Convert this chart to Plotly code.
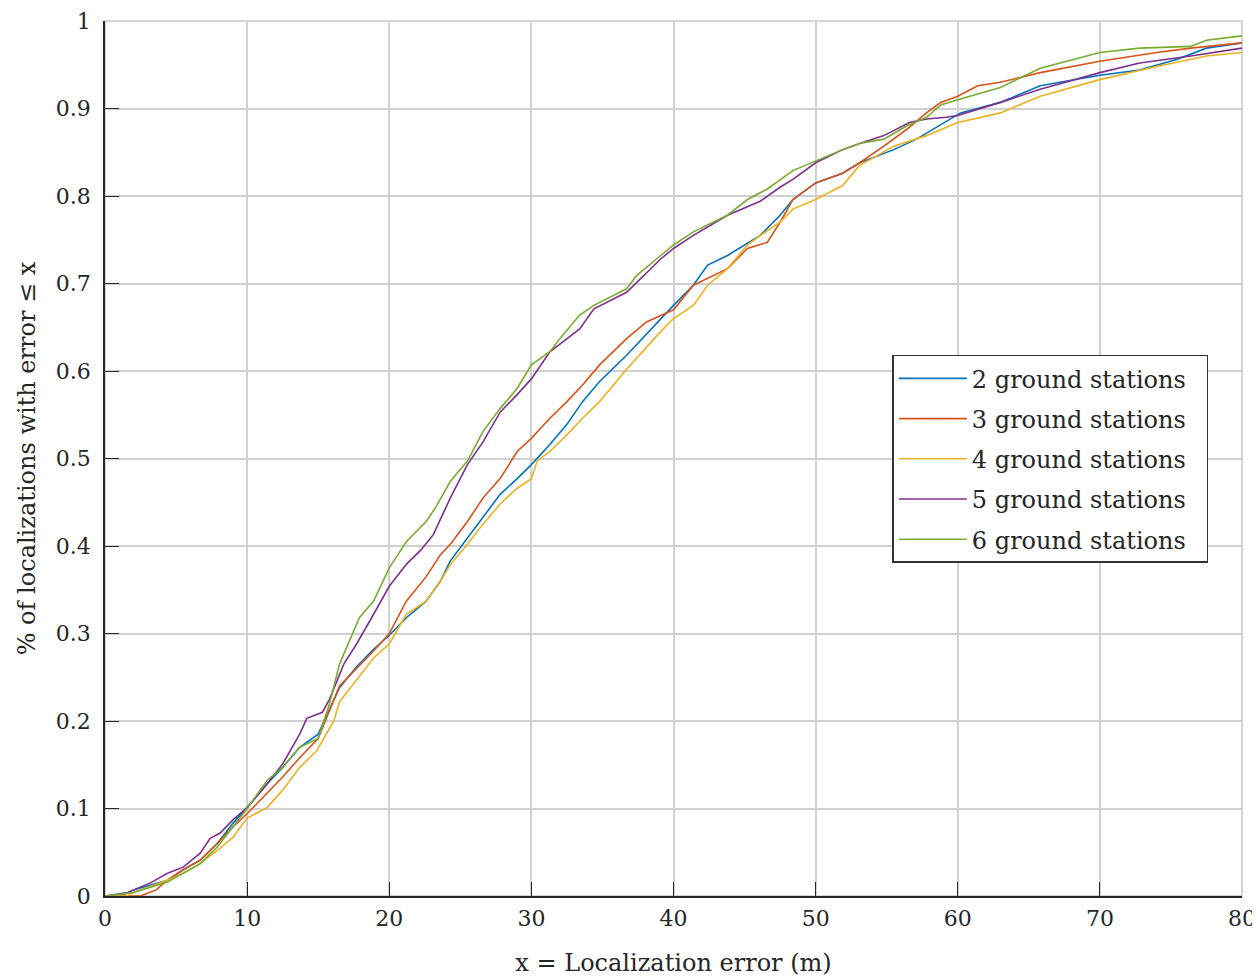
import plotly.graph_objects as go

# ---- data (x = localization error in m, y = CDF) ----
x_gs2 = [0, 1.2, 2.0, 4.4, 5.5, 6.7, 7.9, 9.0, 10, 11.4,
         12.5, 13.7, 15, 16.5, 17.7, 18.9, 20, 21.2, 22.6, 23.6,
         24.3, 25.5, 26.6, 27.8, 29, 30, 31.3, 32.5, 33.6, 34.8,
         36.7, 39.1, 40, 41.4, 42.4, 43.8, 46.1, 47.5, 48.4, 50,
         51.9, 53.1, 55.5, 57.1, 59.3, 60.2, 62.3, 63, 65.8, 70,
         72.8, 75.4, 77.5, 80]
y_gs2 = [0, 0.001, 0.007, 0.018, 0.03, 0.041, 0.06, 0.083, 0.101, 0.128,
         0.147, 0.17, 0.185, 0.238, 0.262, 0.282, 0.298, 0.318, 0.337, 0.36,
         0.383, 0.409, 0.432, 0.459, 0.477, 0.493, 0.516, 0.539, 0.565, 0.588,
         0.618, 0.66, 0.675, 0.698, 0.721, 0.732, 0.755, 0.778, 0.796, 0.815,
         0.826, 0.838, 0.853, 0.865, 0.887, 0.895, 0.904, 0.907, 0.926, 0.938,
         0.944, 0.956, 0.969, 0.975]

x_gs3 = [0, 2.5, 3.6, 4.4, 5.5, 6.7, 7.9, 9.0, 10, 11.4,
         12.5, 13.7, 15, 16.5, 18.9, 20, 21.2, 22.6, 23.6, 24.3,
         25.5, 26.6, 27.8, 29, 30, 31.3, 32.5, 33.6, 34.8, 36.7,
         38.1, 40, 41.4, 43.8, 45.2, 46.6, 47.5, 48.4, 50, 51.9,
         53.1, 54.8, 56.4, 57.8, 58.8, 60, 61.4, 63, 65.8, 70,
         74, 76.4, 80]
y_gs3 = [0, 0, 0.007, 0.018, 0.03, 0.041, 0.06, 0.079, 0.094, 0.117,
         0.136, 0.158, 0.18, 0.24, 0.28, 0.30, 0.337, 0.365, 0.39, 0.402,
         0.428, 0.455, 0.477, 0.508, 0.523, 0.546, 0.565, 0.584, 0.607, 0.637,
         0.656, 0.67, 0.698, 0.717, 0.74, 0.747, 0.77, 0.796, 0.815, 0.826,
         0.838, 0.857, 0.876, 0.895, 0.907, 0.914, 0.926, 0.93, 0.941, 0.954,
         0.964, 0.969, 0.975]

x_gs4 = [0, 1.5, 2.0, 4.4, 5.5, 6.7, 7.9, 9.0, 10, 11.4,
         12.5, 13.7, 14.9, 16.1, 16.5, 18.9, 20, 21.2, 22.6, 23.6,
         24.3, 25.5, 26.6, 27.8, 29, 30, 30.4, 31.3, 32.5, 33.6,
         34.8, 36.7, 39.1, 40, 41.4, 42.4, 43.8, 45.2, 46.1, 47.5,
         48.4, 50, 51.9, 53.1, 55.5, 57.8, 60, 62.3, 63, 65.8,
         70, 74, 77.5, 80]
y_gs4 = [0, 0, 0.004, 0.018, 0.026, 0.037, 0.052, 0.067, 0.089, 0.101,
         0.121, 0.147, 0.166, 0.2, 0.222, 0.272, 0.288, 0.322, 0.337, 0.36,
         0.379, 0.402, 0.425, 0.448, 0.466, 0.477, 0.497, 0.508, 0.527, 0.546,
         0.565, 0.602, 0.645, 0.66, 0.675, 0.698, 0.717, 0.744, 0.755, 0.77,
         0.785, 0.796, 0.812, 0.835, 0.857, 0.869, 0.884, 0.893, 0.895, 0.914,
         0.933, 0.948, 0.96, 0.964]

x_gs5 = [0, 1.6, 3.2, 4.4, 5.5, 6.7, 7.4, 8.1, 9.0, 10,
         11.4, 12.5, 13.7, 14.2, 15.3, 15.8, 16.8, 17.7, 18.9, 20,
         21.2, 22.2, 23.1, 24.3, 25.5, 26.6, 27.8, 29, 30, 31.3,
         33.4, 34.4, 36.7, 39.1, 40, 41.4, 43.8, 46.1, 47.5, 48.4,
         50, 51.9, 53.1, 54.8, 56.6, 57.8, 59.2, 60, 63, 65.8,
         70, 72.8, 76.4, 80]
y_gs5 = [0, 0.004, 0.015, 0.026, 0.033, 0.049, 0.066, 0.072, 0.087, 0.101,
         0.128, 0.151, 0.185, 0.203, 0.21, 0.225, 0.265, 0.288, 0.322, 0.354,
         0.379, 0.395, 0.413, 0.455, 0.493, 0.519, 0.553, 0.573, 0.591, 0.622,
         0.648, 0.671, 0.69, 0.728, 0.74, 0.755, 0.778, 0.794, 0.81, 0.819,
         0.838, 0.853, 0.86, 0.869, 0.884, 0.888, 0.89, 0.892, 0.907, 0.922,
         0.941, 0.952, 0.96, 0.969]

x_gs6 = [0, 2.0, 4.4, 5.5, 6.7, 7.9, 9.0, 10, 11.4, 12.5,
         13.7, 15, 15.8, 16.5, 17.9, 18.9, 20, 21.2, 22.6, 23.3,
         24.3, 25.5, 26.6, 27.8, 29, 30, 31.3, 32, 33.4, 34.4,
         36.7, 37.4, 39.1, 40, 41.4, 43.8, 45.2, 46.6, 48.4, 50,
         51.9, 53.1, 54.8, 56.4, 57.8, 58.8, 60, 63, 65.8, 70,
         72.8, 76.4, 77.5, 80]
y_gs6 = [0, 0.004, 0.016, 0.026, 0.037, 0.056, 0.079, 0.10, 0.132, 0.147,
         0.17, 0.18, 0.22, 0.265, 0.318, 0.337, 0.375, 0.405, 0.428, 0.445,
         0.474, 0.497, 0.531, 0.557, 0.58, 0.607, 0.622, 0.637, 0.664, 0.675,
         0.694, 0.709, 0.732, 0.744, 0.759, 0.778, 0.796, 0.808, 0.829, 0.84,
         0.853, 0.86, 0.865, 0.88, 0.89, 0.904, 0.91, 0.924, 0.946, 0.964,
         0.969, 0.971, 0.978, 0.983]

series_names = ["2 ground stations", "3 ground stations", "4 ground stations",
                "5 ground stations", "6 ground stations"]
series_x = [x_gs2, x_gs3, x_gs4, x_gs5, x_gs6]
series_y = [y_gs2, y_gs3, y_gs4, y_gs5, y_gs6]
colors = ["#0072BD", "#D95319", "#EDB120", "#7E2F8E", "#77AC30"]

x_ticks = [0, 10, 20, 30, 40, 50, 60, 70, 80]
y_ticks = [0, 0.1, 0.2, 0.3, 0.4, 0.5, 0.6, 0.7, 0.8, 0.9, 1]
y_ticktext = ["0", "0.1", "0.2", "0.3", "0.4", "0.5", "0.6", "0.7", "0.8", "0.9", "1"]

for xs, ys in zip(series_x, series_y):
    assert len(xs) == len(ys)

FONT = "DejaVu Serif"
TXT = "#262626"
PAD = "\u00a0\u00a0"  # invisible right padding inside the legend box

fig = go.Figure()
for name, xs, ys, c in zip(series_names, series_x, series_y, colors):
    fig.add_trace(go.Scatter(x=xs, y=ys, mode="lines", name=name + PAD,
                             legendgroup=name,
                             line=dict(color=c, width=1.6)))

fig.add_shape(type="rect", xref="paper", yref="paper", x0=0, y0=0, x1=1, y1=1,
              line=dict(color="#c8c8c8", width=1.5), layer="below")

# page body has an 8px margin, so the figure is sized/offset to compensate
fig.update_layout(
    width=1252, height=969,
    margin=dict(l=97, r=18, t=13, b=81, autoexpand=False),
    paper_bgcolor="white", plot_bgcolor="white",
    font=dict(family=FONT, size=22, color=TXT),
    showlegend=True,
    legend=dict(x=0.6925, y=0.6185, xanchor="left", yanchor="top",
                bgcolor="white", bordercolor="#333333", borderwidth=1.5,
                font=dict(family=FONT, size=24, color=TXT),
                tracegroupgap=6, traceorder="grouped", itemwidth=68),
    xaxis=dict(range=[0, 80], tickvals=x_ticks, showgrid=True, automargin=False,
               gridcolor="#d0d0d0", gridwidth=1.5, zeroline=False,
               showline=True, linecolor=TXT, linewidth=1.5,
               ticks="inside", ticklen=14, tickcolor=TXT, tickwidth=1,
               ticklabelstandoff=2, ticklabeloverflow="allow",
               tickfont=dict(family=FONT, size=22, color=TXT),
               title=dict(text="x = Localization error (m)", standoff=25,
                          font=dict(family=FONT, size=24, color=TXT))),
    yaxis=dict(range=[0, 1], tickvals=y_ticks, ticktext=y_ticktext, showgrid=True,
               automargin=False,
               gridcolor="#d0d0d0", gridwidth=1.5, zeroline=False,
               showline=True, linecolor=TXT, linewidth=1.5,
               ticks="inside", ticklen=14, tickcolor=TXT, tickwidth=1,
               ticklabelstandoff=8, ticklabeloverflow="allow",
               tickfont=dict(family=FONT, size=22, color=TXT),
               title=dict(text="% of localizations with error ≤ x", standoff=13,
                          font=dict(family=FONT, size=24, color=TXT))),
)

fig.write_html("out.html")
